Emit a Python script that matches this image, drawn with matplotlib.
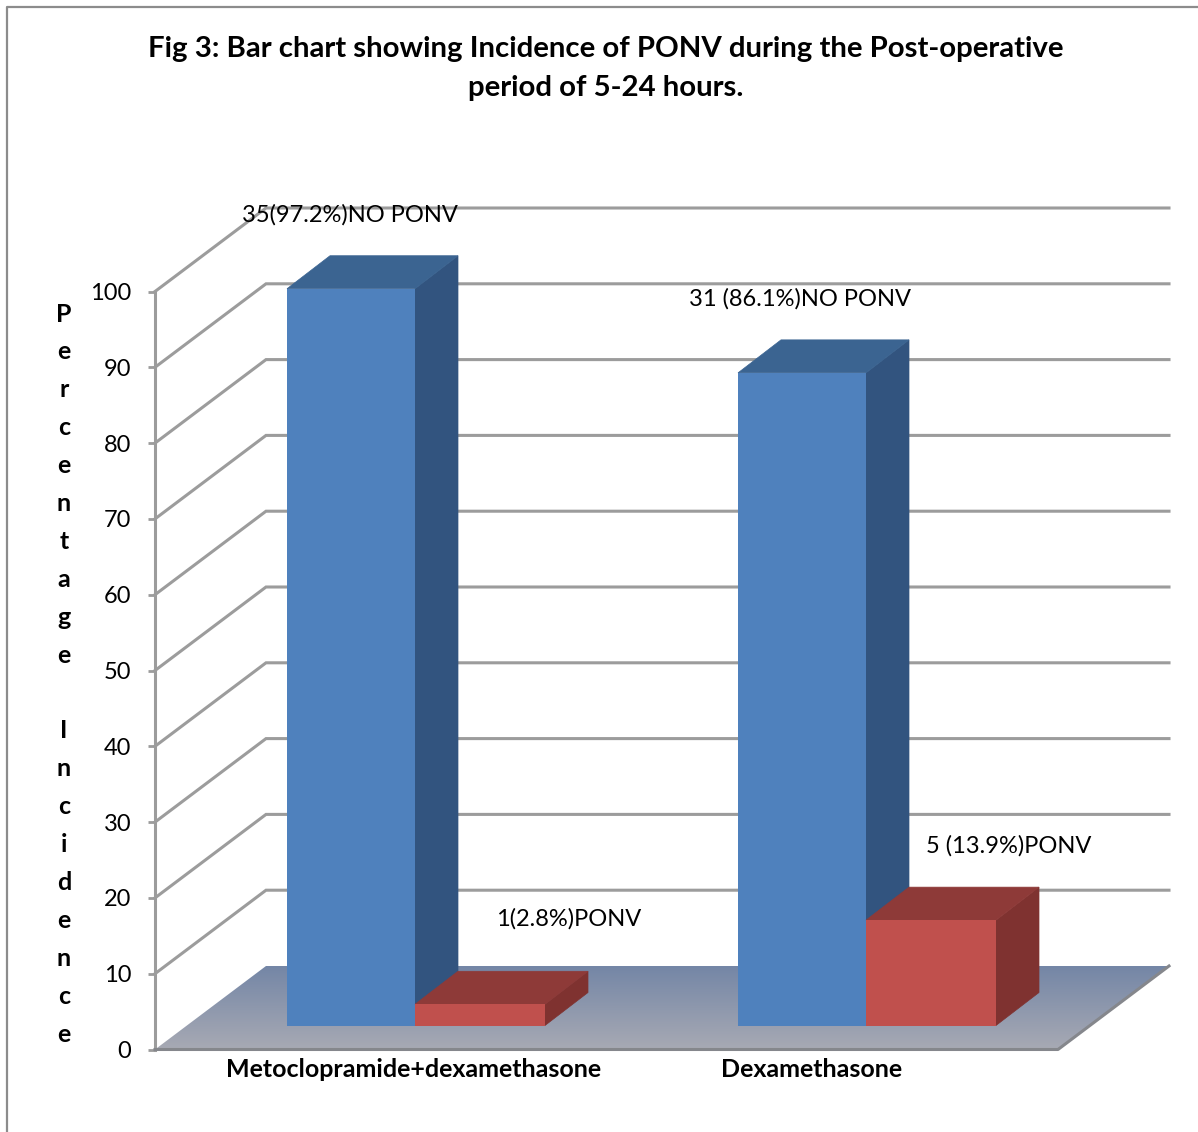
import numpy as np
import matplotlib
matplotlib.use('Agg')
import matplotlib.pyplot as plt
from matplotlib.colors import LinearSegmentedColormap
from matplotlib.patches import Polygon

groups = ['Metoclopramide+dexamethasone', 'Dexamethasone']
no_ponv = [97.2, 86.1]
ponv = [2.8, 13.9]
no_ponv_labels = ['35(97.2%)NO PONV', '31 (86.1%)NO PONV']
ponv_labels = ['1(2.8%)PONV', '5 (13.9%)PONV']
y_ticks = [0, 10, 20, 30, 40, 50, 60, 70, 80, 90, 100]
title_lines = ['Fig 3: Bar chart showing Incidence of PONV during the Post-operative',
               'period of 5-24 hours.']
y_title_top = 'Percentage'
y_title_bottom = 'Incidence'

plt.rcParams['font.family'] = ['Lato', 'DejaVu Sans']

W, H = 1198, 1132
px_per_unit = 7.58
y_zero_px = 1049.5


def units(px):
    return px / px_per_unit


def level(py):
    # pixel row from the top of the figure -> value on the y axis
    return units(y_zero_px - py)


# x is in pixels, y is in percent so the bars use the axis scale directly
fig = plt.figure(figsize=(W / 100, H / 100), dpi=100)
ax = fig.add_axes([0, 0, 1, 1])
ax.patch.set_alpha(0)

# oblique offset of the back wall and of the bar depth
wall_dx, wall_dy = 111, units(83.5)
bar_dx, bar_dy = 43, units(33)
floor_left, floor_right = 155, 1058
bar_base = units(24)
bar_w = 129
bar_starts = [287, 738]
grid_col = '#9c9c9c'

# outer frame of the figure
ax.plot([7, 7, W], [level(H), level(7), level(7)], color='#8c8c8c', lw=1.6, zorder=1)

# gridlines run up the side wall then along the back wall
for v in y_ticks[1:]:
    ax.plot([floor_left, floor_left + wall_dx, floor_right + wall_dx],
            [v, v + wall_dy, v + wall_dy], color=grid_col, lw=2.2,
            solid_joinstyle='miter', zorder=2)

# floor with vertical gradient
floor = Polygon([(floor_left, 0), (floor_right, 0), (floor_right + wall_dx, wall_dy),
                 (floor_left + wall_dx, wall_dy)], closed=True, facecolor='none',
                edgecolor='none', zorder=3)
ax.add_patch(floor)
cmap = LinearSegmentedColormap.from_list('floor', ['#a8aab4', '#7486a6'])
grad = ax.imshow(np.linspace(0, 1, 256).reshape(-1, 1), cmap=cmap, origin='lower', aspect='auto',
                 extent=(floor_left, floor_right + wall_dx, 0, wall_dy), zorder=3)
grad.set_clip_path(floor)
ax.plot([floor_left, floor_right, floor_right + wall_dx], [0, 0, wall_dy],
        color='#85878c', lw=2.2, zorder=3)

# imshow changes the limits, so set them after it
ax.set_xlim(0, W)
ax.set_ylim(level(H), level(0))


def draw_box(x, w, value, front, top, side, z):
    # one 3D bar: top and side faces first, then the front
    y0 = bar_base
    y1 = bar_base + value
    ax.add_patch(Polygon([(x + w, y0), (x + w + bar_dx, y0 + bar_dy),
                          (x + w + bar_dx, y1 + bar_dy), (x + w, y1)],
                         facecolor=side, edgecolor=side, lw=0.5, zorder=z))
    ax.add_patch(Polygon([(x, y1), (x + w, y1), (x + w + bar_dx, y1 + bar_dy),
                          (x + bar_dx, y1 + bar_dy)],
                         facecolor=top, edgecolor=top, lw=0.5, zorder=z))
    ax.bar(x, value, width=w, bottom=y0, align='edge', color=front, zorder=z + 0.1)


for i in range(len(groups)):
    draw_box(bar_starts[i], bar_w - 1, no_ponv[i], '#4f81bd', '#3b6491', '#32547f', 4 + i)
    draw_box(bar_starts[i] + bar_w - 1, bar_w + 1, ponv[i], '#c0504d', '#8e3a38', '#7f3230', 4.5 + i)

# left value axis
for name, spine in ax.spines.items():
    spine.set_visible(name == 'left')
ax.spines['left'].set_position(('data', floor_left))
ax.spines['left'].set_bounds(0, 100)
ax.spines['left'].set_color(grid_col)
ax.spines['left'].set_linewidth(2.2)
ax.set_yticks(y_ticks)
ax.tick_params(axis='y', direction='out', length=5, width=2, color=grid_col,
               labelsize=17, pad=12, labelcolor='black')

# category labels hang off the front edge of the floor
ax.spines['bottom'].set_position(('data', 0))
ax.set_xticks([414, 812])
ax.set_xticklabels(groups, fontsize=18, fontweight='bold')
ax.tick_params(axis='x', length=0, pad=6)

# data labels
no_pos = [(350, 215), (800, 299)]
yes_pos = [(569, 919), (1009, 846)]
for txt, (px, py) in zip(no_ponv_labels, no_pos):
    ax.text(px, level(py), txt, ha='center', va='center', fontsize=17, zorder=8)
for txt, (px, py) in zip(ponv_labels, yes_pos):
    ax.text(px, level(py), txt, ha='center', va='center', fontsize=17, zorder=8)

# title, each line placed on its own
ax.text(606, level(49), title_lines[0], ha='center', va='center', fontsize=21.2,
        fontweight='bold', zorder=8)
ax.text(606, level(88), title_lines[1], ha='center', va='center', fontsize=21.2,
        fontweight='bold', zorder=8)

# axis title is stacked one letter per line
for i, ch in enumerate(y_title_top):
    ax.text(64, level(314 + i * 37.9), ch, ha='center', va='center', fontsize=18, fontweight='bold')
for i, ch in enumerate(y_title_bottom):
    ax.text(64, level(731 + i * 37.9), ch, ha='center', va='center', fontsize=18, fontweight='bold')

fig.savefig('out.png', dpi=100)
